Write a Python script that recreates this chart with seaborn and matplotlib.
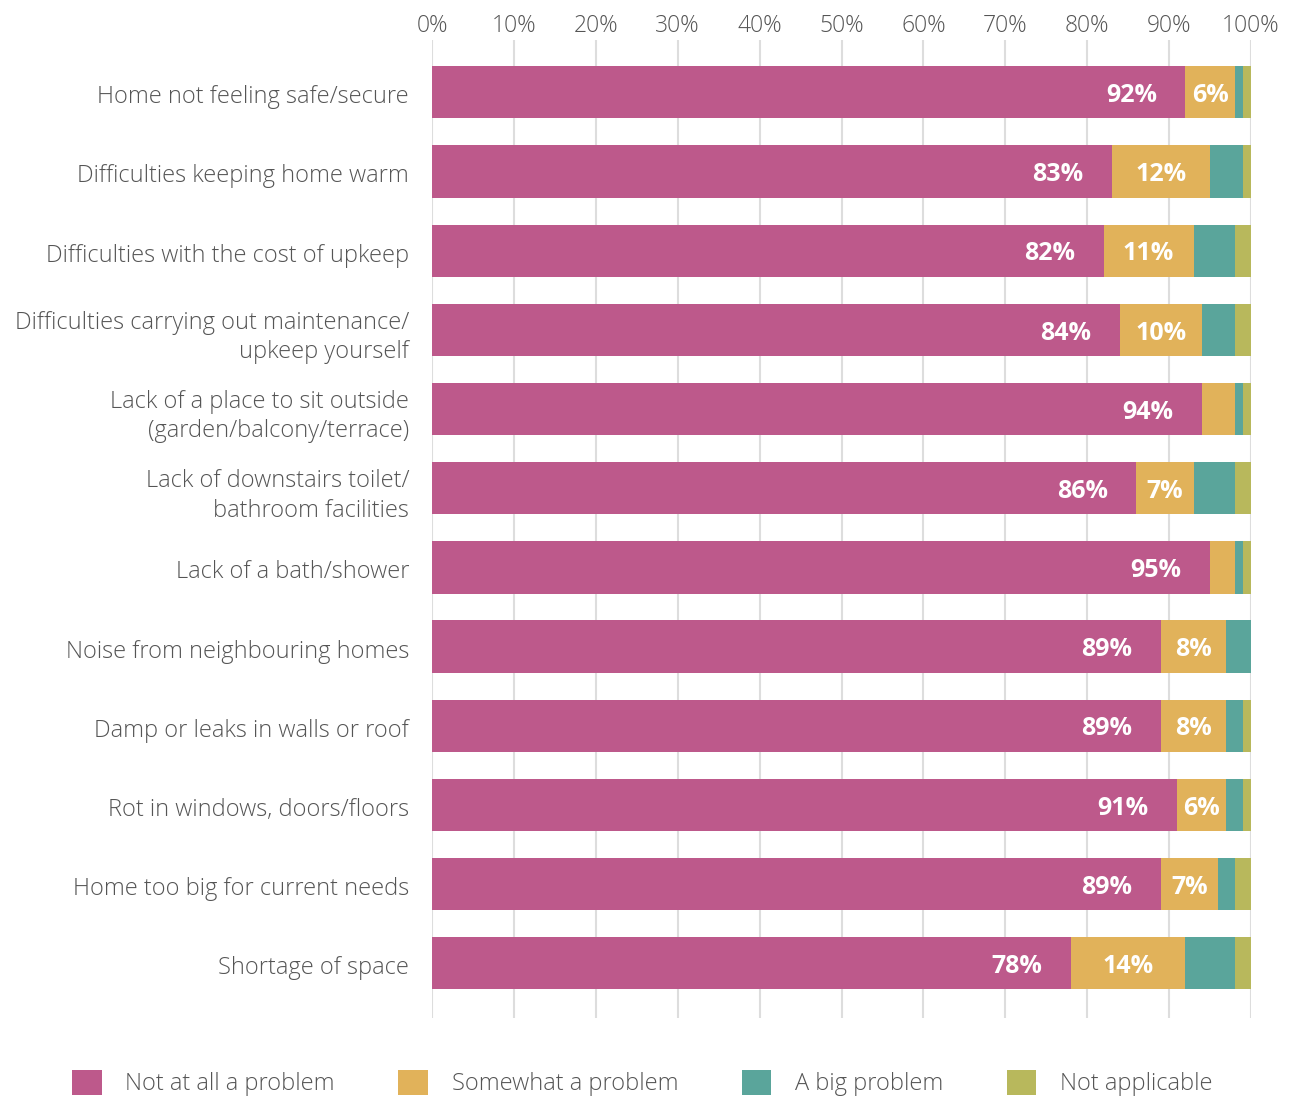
import matplotlib
matplotlib.use("Agg")
import matplotlib.pyplot as plt
from matplotlib.patches import Patch
import matplotlib.transforms as mtransforms
import numpy as np
import pandas as pd
import seaborn as sns

categories = [
    "Home not feeling safe/secure",
    "Difficulties keeping home warm",
    "Difficulties with the cost of upkeep",
    "Difficulties carrying out maintenance/\nupkeep yourself",
    "Lack of a place to sit outside\n(garden/balcony/terrace)",
    "Lack of downstairs toilet/\nbathroom facilities",
    "Lack of a bath/shower",
    "Noise from neighbouring homes",
    "Damp or leaks in walls or roof",
    "Rot in windows, doors/floors",
    "Home too big for current needs",
    "Shortage of space",
]
not_at_all = [92, 83, 82, 84, 94, 86, 95, 89, 89, 91, 89, 78]
somewhat = [6, 12, 11, 10, 4, 7, 3, 8, 8, 6, 7, 14]
big_problem = [1, 4, 5, 4, 1, 5, 1, 3, 2, 2, 2, 6]
not_applicable = [1, 1, 2, 2, 1, 2, 1, 0, 1, 1, 2, 2]

series_names = ["Not at all a problem", "Somewhat a problem", "A big problem", "Not applicable"]
colors = ["#BD598B", "#E1B25A", "#5AA59B", "#B8B85C"]
text_color = "#555555"

sns.set_theme(style="white")
plt.rcParams["font.family"] = ["Open Sans", "DejaVu Sans"]

df = pd.DataFrame({
    "category": categories,
    "pink": not_at_all,
    "orange": somewhat,
    "teal": big_problem,
    "green": not_applicable,
})
df["c1"] = df["pink"]
df["c2"] = df["c1"] + df["orange"]
df["c3"] = df["c2"] + df["teal"]
df["c4"] = df["c3"] + df["green"]

fig = plt.figure(figsize=(12.93, 10.97), dpi=100)
ax = fig.add_axes([432 / 1293, 1 - 1018 / 1097, (1251 - 432) / 1293, (1018 - 40) / 1097])

# stacked bars: draw cumulative totals from longest to shortest
for col, color in zip(["c4", "c3", "c2", "c1"], colors[::-1]):
    sns.barplot(data=df, x=col, y="category", color=color, width=0.66,
                saturation=1, orient="h", ax=ax, zorder=3, linewidth=0)

ax.set_xlim(0, 100)
ax.set_ylim(len(categories) - 1 + 0.69, -0.66)
ax.set_xticks(np.arange(0, 101, 10))
ax.set_xticklabels([f"{v}%" for v in range(0, 101, 10)])
ax.xaxis.tick_top()
ax.tick_params(axis="x", length=0, pad=1.5, labelsize=16.5, labelcolor=text_color)
ax.tick_params(axis="y", length=0, pad=16.5, labelsize=17, labelcolor=text_color)
for lab in ax.get_xticklabels() + ax.get_yticklabels():
    lab.set_fontweight("light")
shift_down = mtransforms.ScaledTranslation(0, -2 / 100, fig.dpi_scale_trans)
for lab in ax.get_yticklabels():
    lab.set_horizontalalignment("right")
    lab.set_multialignment("right")
    lab.set_linespacing(1.3)
    lab.set_transform(lab.get_transform() + shift_down)
ax.set_xlabel("")
ax.set_ylabel("")
ax.grid(axis="x", color="#DDDDDD", linewidth=1.5, zorder=0)
ax.set_axisbelow(True)
for s in ax.spines.values():
    s.set_visible(False)

# value labels
for i, (p, o) in enumerate(zip(not_at_all, somewhat)):
    ax.text(p - 3.5, i + 0.04, f"{p}%", ha="right", va="center", color="white",
            fontsize=18, fontweight="bold", zorder=5)
    if o >= 6:
        ax.text(p + o / 2, i + 0.04, f"{o}%", ha="center", va="center", color="white",
                fontsize=18, fontweight="bold", zorder=5)

handles = [Patch(facecolor=c, edgecolor="none") for c in colors]
leg = fig.legend(handles, series_names, loc="center left", bbox_to_anchor=(72 / 1293, 1 - 1083 / 1097),
                 ncol=4, frameon=False, fontsize=17, handlelength=1.25, handleheight=1.25,
                 handletextpad=1.0, columnspacing=2.7, borderaxespad=0, borderpad=0)
for t in leg.get_texts():
    t.set_color(text_color)
    t.set_fontweight("light")

fig.savefig("out.png", dpi=100)
